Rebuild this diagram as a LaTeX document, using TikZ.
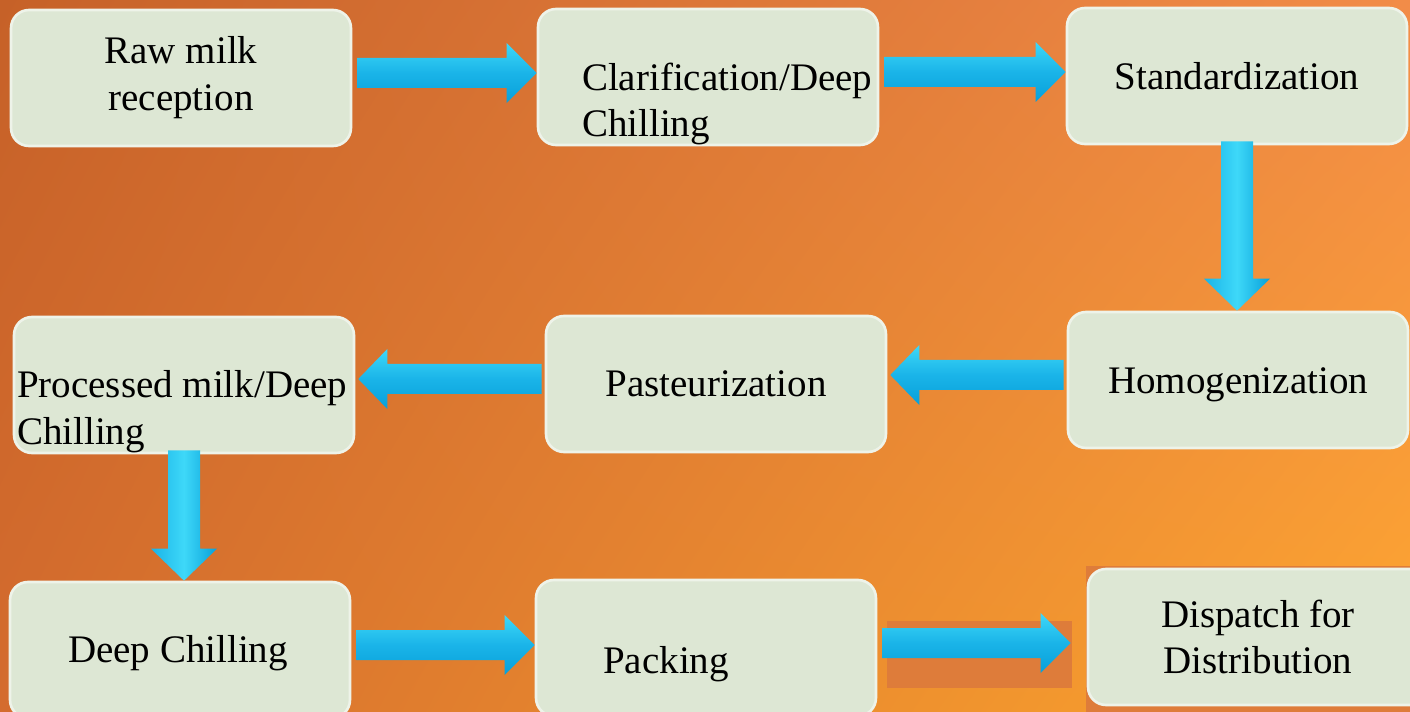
\documentclass[tikz,border=0pt]{standalone}
\usepackage{fontspec}
\setmainfont{Liberation Serif}
\usepackage{tikz}
\usepackage{xcolor}
\usetikzlibrary{calc,shadings}

\definecolor{bgul}{RGB}{198,97,40}
\definecolor{bgur}{RGB}{242,140,72}
\definecolor{bgll}{RGB}{212,108,46}
\definecolor{bglr}{RGB}{253,166,46}
\definecolor{patchcol}{RGB}{222,124,58}
\definecolor{boxfill}{RGB}{221,231,212}
\definecolor{boxrim}{RGB}{238,243,233}
\definecolor{arrowhi}{RGB}{62,216,248}
\definecolor{arrowmid}{RGB}{26,180,232}
\definecolor{arrowlo}{RGB}{8,160,218}

\newcommand{\flowright}[2]{%
  \path[flowh] ($(#1)+(5,-20)$) -- ($(#2 |- #1)+(-30,-20)$) -- ++(0,-15)
    -- ($(#2 |- #1)+(0,-5)$) -- ($(#2 |- #1)+(-30,25)$) -- ++(0,-15)
    -- ($(#1)+(5,10)$) -- cycle;}
\newcommand{\flowleft}[2]{%
  \path[flowh] ($(#1)+(-3,-20)$) -- ($(#2 |- #1)+(32,-20)$) -- ++(0,-15)
    -- ($(#2 |- #1)+(3,-5)$) -- ($(#2 |- #1)+(32,25)$) -- ++(0,-15)
    -- ($(#1)+(-3,10)$) -- cycle;}
\newcommand{\flowdown}[2]{%
  \path[flowv] ($(#1)+(-16,-4)$) -- ($(#1 |- #2)+(-16,-32)$) -- ++(-17,0)
    -- (#1 |- #2) -- ($(#1 |- #2)+(33,-32)$) -- ++(-17,0)
    -- ($(#1)+(16,-4)$) -- cycle;}

\begin{document}
\begin{tikzpicture}[x=0.02cm,y=-0.02cm]%
  \tikzstyle{stepbox}=[rectangle,rounded corners=0.36cm,minimum width=6.8cm,minimum height=2.72cm,fill=boxfill,draw=boxrim,line width=1.5pt]
  \tikzstyle{steptext}=[inner sep=0,font=\fontsize{22.2pt}{26.7pt}\selectfont]
  \tikzstyle{flowh}=[top color=arrowhi,bottom color=arrowlo,middle color=arrowmid]
  \tikzstyle{flowv}=[left color=arrowmid,right color=arrowlo,middle color=arrowhi]
  \useasboundingbox (0,0) rectangle (1410,712);
  \shade[upper left=bgul,upper right=bgur,lower left=bgll,lower right=bglr] (0,0) rectangle (1410,712);
  \fill[patchcol] (887,621) rectangle (1072,688);
  \fill[patchcol] (1086,566) rectangle (1410,712);
  \node(raw)[stepbox] at (181,78) {};
  \node(clar)[stepbox] at (708,77) {};
  \node(std)[stepbox] at (1237,76) {};
  \node(homog)[stepbox] at (1238,380) {};
  \node(past)[stepbox] at (716,384) {};
  \node(proc)[stepbox] at (184,385) {};
  \node(deep)[stepbox] at (180,650) {};
  \node(pack)[stepbox] at (706,648) {};
  \node(disp)[stepbox] at (1258,637) {};
  \node(rawt)[steptext,align=center] at (raw) {Raw milk\\reception};
  \node(clart)[steptext,align=left,anchor=west] at ($(clar.west)+(45,27)$) {Clarification/Deep\\Chilling};
  \node(stdt)[steptext] at (std) {Standardization};
  \node(homogt)[steptext] at ($(homog)+(0,5)$) {Homogenization};
  \node(pastt)[steptext] at (past) {Pasteurization};
  \node(proct)[steptext,align=left,anchor=west] at ($(proc.west)+(4,27)$) {Processed milk/Deep\\Chilling};
  \node(deept)[steptext] at ($(deep)+(-2,3)$) {Deep Chilling};
  \node(packt)[steptext] at ($(pack)+(-40,16)$) {Packing};
  \node(dispt)[steptext,align=center] at (disp) {Dispatch for\\Distribution};
  \coordinate(dispin) at ($(disp.west)+(-16,0)$);
  \flowright{raw.east}{clar.west}
  \flowright{clar.east}{std.west}
  \flowdown{std.south}{homog.north}
  \flowleft{homog.west}{past.east}
  \flowleft{past.west}{proc.east}
  \flowdown{proc.south}{deep.north}
  \flowright{deep.east}{pack.west}
  \flowright{pack.east}{dispin}
\end{tikzpicture}
\end{document}
